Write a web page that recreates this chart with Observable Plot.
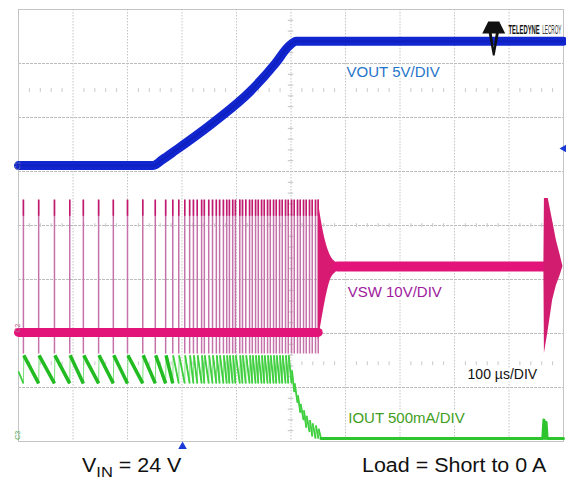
<!DOCTYPE html>
<html>
<head>
<meta charset="utf-8">
<script src="https://cdn.jsdelivr.net/npm/d3@7"></script>
<script src="https://cdn.jsdelivr.net/npm/@observablehq/plot@0.6"></script>
<style>
  body { margin: 0; background: #fff; font-family: "Liberation Sans", Arial, sans-serif; }
  #wrap { position: relative; width: 566px; height: 479px; overflow: hidden; }
  .foot { position: absolute; top: 455px; font-size: 19.5px; line-height: 21px; color: #111;
          transform: scaleX(1.1); transform-origin: left top; white-space: nowrap; }
  .foot sub { font-size: 15px; vertical-align: baseline; position: relative; top: 5px; }
</style>
</head>
<body>
<div id="wrap">
  <div id="chart"></div>
  <div class="foot" style="left:82px">V<sub>IN</sub> = 24 V</div>
  <div class="foot" style="left:362px">Load = Short to 0 A</div>
</div>
<script>
// ---- time axis: µs, 100 µs/DIV, 10 divisions ----
// switching pulses of VSW (µs)
const pulseTimes = [9, 37, 66, 94, 119, 147, 174, 200, 228, 251, 270, 283, 294, 305, 314, 321, 328, 336, 341, 349,
  356, 363, 369, 376, 382, 387, 393, 398, 406, 411, 417, 424, 429, 435, 440, 446, 451, 457, 462, 468,
  473, 479, 484, 490, 495, 501, 506, 512, 517, 523, 528, 534, 539, 545, 550];
// IOUT peak / valley per switching pulse (A)
const ioutPeak = [0.77, 0.77, 0.77, 0.77, 0.77, 0.77, 0.77, 0.77, 0.77, 0.77, 0.77, 0.77, 0.77, 0.77, 0.77, 0.77, 0.77, 0.77, 0.77, 0.77,
  0.77, 0.77, 0.77, 0.77, 0.77, 0.77, 0.77, 0.77, 0.77, 0.77, 0.77, 0.77, 0.77, 0.77, 0.77, 0.77, 0.77, 0.77, 0.77, 0.77,
  0.77, 0.77, 0.77, 0.77, 0.77, 0.63, 0.51, 0.40, 0.32, 0.26, 0.21, 0.17, 0.14, 0.12, 0.09];
const ioutValley = [0.51, 0.51, 0.51, 0.51, 0.51, 0.51, 0.51, 0.51, 0.51, 0.51, 0.51, 0.51, 0.51, 0.51, 0.51, 0.51, 0.51, 0.51, 0.51, 0.51,
  0.51, 0.51, 0.51, 0.51, 0.51, 0.51, 0.51, 0.51, 0.51, 0.51, 0.51, 0.51, 0.51, 0.51, 0.51, 0.51, 0.51, 0.51, 0.51, 0.51,
  0.51, 0.51, 0.51, 0.51, 0.51, 0.43, 0.33, 0.24, 0.17, 0.10, 0.06, 0.02, 0, 0, 0];
const ioutStart = 0.62;
const ioutTailTime = [555, 962, 964, 966, 968, 970, 1000];
const ioutTailAmps = [0, 0, 0.17, 0, 0.15, 0, 0];

// VOUT soft-start ramp (V)
const voutTime  = [0, 246, 264, 288, 358, 426, 472, 495, 510, 1000];
const voutVolts = [0, 0, 0.55, 1.4, 4.0, 6.9, 9.5, 11.0, 11.5, 11.5];

// VSW levels (V)
const vswPulseHigh = 24.5, vswPulseLow = -4, vswPulseTop = 21.5;
const vswBaseTime = [0, 550], vswBaseVolts = [0, 0];
const vswRingTime = [550, 556, 563, 572, 582, 590];
const vswRingHigh = [24.4, 20.5, 17.0, 14.3, 13.0, 12.6];
const vswRingLow  = [-1.5, 2.0, 5.9, 9.6, 11.1, 11.6];
const vswSettleTime = [585, 965], vswSettleVolts = [12.2, 12.2];
const vswBurstTime = [964, 965, 972, 980, 987, 994, 999];
const vswBurstHigh = [12.2, 24.8, 24.8, 20.7, 17.0, 14.3, 12.2];
const vswBurstLow  = [12.2, -3.9, 0.4, 5.9, 8.7, 10.6, 12.2];

// markers
const triggerTime = 301, triggerLevelV = 1.57;

// channel settings (graticule offsets in divisions, scale per division)
const CH = {
  vout: {zero: 5.11, perDiv: 5},
  vsw:  {zero: 2.02, perDiv: 10},
  iout: {zero: 0.056, perDiv: 0.5}
};
const yVout = v => CH.vout.zero + v / CH.vout.perDiv;
const yVsw  = v => CH.vsw.zero + v / CH.vsw.perDiv;
const yIout = a => CH.iout.zero + a / CH.iout.perDiv;

// build tables
const vout = voutTime.map((t, i) => ({t, y: yVout(voutVolts[i])}));
const vswBase = vswBaseTime.map((t, i) => ({t, y: yVsw(vswBaseVolts[i])}));
const vswSettle = vswSettleTime.map((t, i) => ({t, y: yVsw(vswSettleVolts[i])}));
const vswRing = vswRingTime.map((t, i) => ({t, lo: yVsw(vswRingLow[i]), hi: yVsw(vswRingHigh[i])}));
const vswBurst = vswBurstTime.map((t, i) => ({t, lo: yVsw(vswBurstLow[i]), hi: yVsw(vswBurstHigh[i])}));
// IOUT: full trace, falling ramps (thick) and rising edges (thin)
const iout = [{t: 0, y: yIout(ioutStart)}];
pulseTimes.forEach((t, i) => {
  iout.push({t, y: yIout(i === 0 ? ioutValley[0] : ioutValley[i - 1])});
  iout.push({t: t + 0.8, y: yIout(ioutPeak[i])});
});
ioutTailTime.forEach((t, i) => iout.push({t, y: yIout(ioutTailAmps[i])}));
const ioutRamps = pulseTimes.map((t, i) => ({
  t1: t + 0.8, y1: yIout(ioutPeak[i]),
  t2: i < pulseTimes.length - 1 ? pulseTimes[i + 1] : ioutTailTime[0],
  y2: yIout(ioutValley[i])
}));
ioutRamps.unshift({t1: 0, y1: yIout(ioutStart), t2: pulseTimes[0], y2: yIout(ioutValley[0])});

// graticule
const majorX = d3.range(100, 1000, 100);
const majorY = d3.range(1, 8, 1);
const minorX = d3.range(20, 1000, 20).filter(d => d % 100 !== 0);
const minorY = d3.range(0.2, 8, 0.2).filter(d => Math.abs(d - Math.round(d)) > 0.01);
const tickRows = [6.5, 4, 1.44];
const rowTicks = tickRows.flatMap(r => minorX.map(x => ({x, r})));

const labels = [
  {text: "VOUT 5V/DIV", t: 602, y: 6.84, color: "#1f74c9", size: 15},
  {text: "VSW 10V/DIV", t: 604, y: 2.76, color: "#a01a9e", size: 15},
  {text: "IOUT 500mA/DIV", t: 605, y: 0.435, color: "#3f9e22", size: 15},
  {text: "100 µs/DIV", t: 824, y: 1.24, color: "#111", size: 14}
];
const chMarks = [
  {name: "C1", y: CH.vout.zero, color: "#6677aa"},
  {name: "C2", y: CH.vsw.zero + 0.08, color: "#c06090"},
  {name: "C3", y: CH.iout.zero + 0.06, color: "#55aa55"}
];
const logoWords = [
  {text: "TELEDYNE", t: 899, weight: "bold", fill: "#111", squeeze: 0.45},
  {text: "LECROY", t: 961, weight: "normal", fill: "#333", squeeze: 0.36}
];

const logoSymbol = {
  draw(ctx) {
    ctx.moveTo(-5.5, -15); ctx.lineTo(5.5, -15); ctx.lineTo(11.5, -3); ctx.lineTo(-11.5, -3); ctx.closePath();
    ctx.moveTo(-5, -3); ctx.lineTo(-2, -3); ctx.lineTo(0, 11); ctx.lineTo(2, -3); ctx.lineTo(5, -3);
    ctx.lineTo(0.9, 19); ctx.lineTo(-0.9, 19); ctx.closePath();
  }
};

const plot = Plot.plot({
  width: 566, height: 452,
  marginLeft: 18, marginRight: 3, marginTop: 9, marginBottom: 11,
  x: {domain: [0, 1000], axis: null},
  y: {domain: [0, 8], axis: null},
  style: {background: "white", overflow: "visible", fontFamily: "Liberation Sans, Arial, sans-serif"},
  marks: [
    Plot.ruleX(majorX, {stroke: "#c4c4c4", strokeWidth: 1, strokeDasharray: "1.5,1.5"}),
    Plot.ruleY(majorY, {stroke: "#bdbdbd", strokeWidth: 1, strokeDasharray: "3,1"}),
    Plot.ruleX(rowTicks, {x: "x", y1: d => d.r - 0.035, y2: d => d.r + 0.035, stroke: "#c8c8c8", strokeWidth: 1}),
    Plot.ruleY(minorY, {y: d => d, x1: 495, x2: 505, stroke: "#c0c0c0", strokeWidth: 1}),
    Plot.frame({stroke: "#c4c4c4"}),
    // VOUT
    Plot.line(vout, {x: "t", y: "y", stroke: "#1226d0", strokeWidth: 9, curve: "monotone-x"}),
    Plot.line(vout, {x: "t", y: "y", stroke: "#0a179a", strokeWidth: 2, strokeOpacity: 0.35, curve: "monotone-x"}),
    // VSW
    Plot.ruleX(pulseTimes, {x: d => d, y1: yVsw(vswPulseLow), y2: yVsw(vswPulseHigh), stroke: "#c672aa", strokeWidth: 1.5}),
    Plot.ruleX(pulseTimes, {x: d => d, y1: yVsw(vswPulseTop), y2: yVsw(vswPulseHigh), stroke: "#c4186e", strokeWidth: 1.5}),
    Plot.line(vswBase, {x: "t", y: "y", stroke: "#e2147a", strokeWidth: 9}),
    Plot.areaY(vswRing, {x: "t", y1: "lo", y2: "hi", fill: "#d81a72", curve: "monotone-x"}),
    Plot.line(vswSettle, {x: "t", y: "y", stroke: "#e2147a", strokeWidth: 10}),
    Plot.areaY(vswBurst, {x: "t", y1: "lo", y2: "hi", fill: "#d21c70", curve: "linear"}),
    // IOUT
    Plot.line(iout, {x: "t", y: "y", stroke: "#5ad65a", strokeWidth: 0.8}),
    Plot.link(ioutRamps, {x1: "t1", y1: "y1", x2: "t2", y2: "y2", stroke: d => d.t2 - d.t1 > 12 ? "#22bb22" : "#3fcf3f",
      strokeWidth: d => d.t2 - d.t1 > 12 ? 3.5 : 1.8}),
    Plot.line(iout.filter(d => d.t >= ioutTailTime[0]), {x: "t", y: "y", stroke: "#2ec42e", strokeWidth: 3}),
    // labels
    Plot.text(labels, {x: "t", y: "y", text: "text", fill: "color", fontSize: "size", textAnchor: "start",
      stroke: "white", strokeWidth: 5, paintOrder: "stroke"}),
    // channel markers
    Plot.text(chMarks, {x: () => 0, y: "y", text: "name", fill: "color", fontSize: 7, rotate: -90, dx: -1}),
    // trigger markers
    Plot.dot([triggerLevelV], {x: () => 1000, y: d => yVout(d), symbol: "triangle", rotate: -90, r: 3.2, fill: "#1a3ad8", dx: 1}),
    Plot.dot([triggerTime], {x: d => d, y: () => 0, symbol: "triangle", r: 3.2, fill: "#1a3ad8", dy: 5}),
    // logo
    Plot.dot([0], {x: () => 872, y: () => 7.5, symbol: logoSymbol, fill: "#111", stroke: "none"}),
    Plot.text(logoWords, {x: "t", y: () => 7.63, text: "text", fontSize: 13, fontWeight: "bold", textAnchor: "start", fill: "fill"})
  ]
});
document.getElementById("chart").appendChild(plot);
// squeeze the condensed logo lettering horizontally
plot.querySelectorAll("text").forEach(el => {
  const w = logoWords.find(d => d.text === el.textContent);
  if (!w) return;
  if (w.weight !== "bold") el.setAttribute("font-weight", "normal");
  const tr = el.getAttribute("transform");
  if (tr) {
    el.setAttribute("transform", tr + ` scale(${w.squeeze},1)`);
  } else {
    const x = +el.getAttribute("x"), y = +el.getAttribute("y");
    el.removeAttribute("x"); el.removeAttribute("y");
    el.setAttribute("transform", `translate(${x},${y}) scale(${w.squeeze},1)`);
  }
});
</script>
</body>
</html>
